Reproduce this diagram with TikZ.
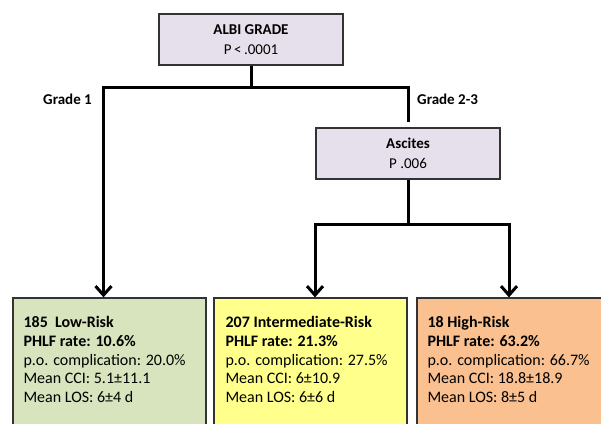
\documentclass[tikz,border=0pt]{standalone}
\usepackage{fontspec}
\setmainfont{Carlito}
\usetikzlibrary{arrows.meta}
\definecolor{lav}{HTML}{E6E0EC}
\definecolor{grn}{HTML}{D7E4BD}
\definecolor{yel}{HTML}{FFFF8C}
\definecolor{org}{HTML}{FAC090}
\definecolor{bord}{HTML}{333333}
\begin{document}
\begin{tikzpicture}[x=1pt,y=-1pt,
  box/.style={draw=bord, line width=1.3pt, inner sep=0pt},
  headbox/.style={box, fill=lav, minimum width=184pt, minimum height=51pt, align=center, font=\fontsize{15}{20}\selectfont},
  riskbox/.style={box, minimum width=193pt, minimum height=132pt},
  conn/.style={line width=3pt},
  arr/.style={conn, -{Straight Barb[length=9pt,width=16pt]}},
  lbl/.style={inner sep=0pt, font=\bfseries\fontsize{15}{18}\selectfont},
  body/.style={anchor=north west, align=left, inner sep=0pt, font=\fontsize{16}{18.9}\selectfont}
]
\useasboundingbox (0,0) rectangle (601,423);
\clip (0,0) rectangle (601,423);
\fill[white] (0,0) rectangle (601,423);

% head boxes
\node[headbox] (top) at (251,39.5) {\textbf{ALBI GRADE}\\P\,<\,.0001};
\node[headbox] (asc) at (408,153.5) {\textbf{Ascites}\\P .006};

% risk boxes
\node[riskbox, fill=grn] (low) at (109.5,364) {};
\node[riskbox, fill=yel] (mid) at (310.5,364) {};
\node[riskbox, fill=org] (high) at (513.5,364) {};

\node[body] (lowt) at ([xshift=11pt,yshift=-18.5pt]low.north west)
  {\textbf{185\ \ Low-Risk}\\\textbf{PHLF rate: 10.6\%}\\p.o. complication: 20.0\%\\Mean CCI: 5.1±11.1\\Mean LOS: 6±4 d};
\node[body] (midt) at ([xshift=12pt,yshift=-18.5pt]mid.north west)
  {\textbf{207 Intermediate-Risk}\\\textbf{PHLF rate: 21.3\%}\\p.o. complication: 27.5\%\\Mean CCI: 6±10.9\\Mean LOS: 6±6 d};
\node[body] (hight) at ([xshift=11pt,yshift=-18.5pt]high.north west)
  {\textbf{18 High-Risk}\\\textbf{PHLF rate: 63.2\%}\\p.o. complication: 66.7\%\\Mean CCI: 18.8±18.9\\Mean LOS: 8±5 d};

% connectors
\coordinate (j1) at (251,87);
\coordinate (j2) at (408,224);
\draw[conn] (top.south) -- (j1);
\draw[arr] (j1) -| ([xshift=-6pt]low.north);
\draw[conn, shorten >=5pt] (j1) -| (asc.north);
\draw[conn] (asc.south) -- (j2);
\draw[arr] (j2) -| ([xshift=4.5pt]mid.north);
\draw[arr] (j2) -| ([xshift=-4.5pt]high.north);

% labels
\node[lbl, anchor=east] (g1) at (92,99) {Grade 1};
\node[lbl, anchor=west] (g23) at (417,99) {Grade 2-3};
\end{tikzpicture}
\end{document}
